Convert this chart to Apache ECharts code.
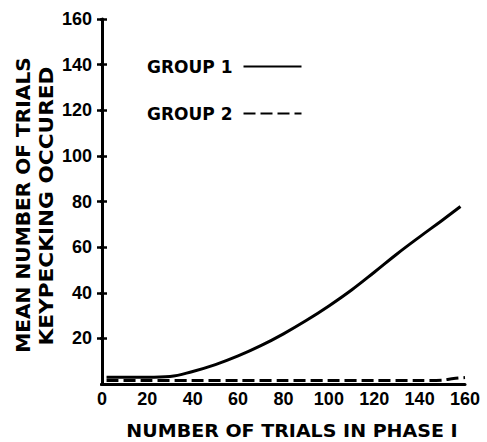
<!DOCTYPE html>
<html>
<head>
<meta charset="utf-8">
<script src="https://cdn.jsdelivr.net/npm/echarts@6/dist/echarts.min.js"></script>
<style>
html,body{margin:0;padding:0;background:#fff;}
#chart{width:487px;height:442px;}
</style>
</head>
<body>
<div id="chart"></div>
<script>
// ---- data ----
var xTicks = [0, 20, 40, 60, 80, 100, 120, 140, 160];
var yTicks = [20, 40, 60, 80, 100, 120, 140, 160];
var seriesNames = ['GROUP 1', 'GROUP 2'];
var group1X = [2, 10, 20, 30, 40, 50, 60, 70, 80, 90, 100, 110, 120, 130, 140, 150, 158];
var group1Y = [3, 3, 3, 3.3, 5.5, 8.5, 12.3, 16.8, 22, 27.8, 34.2, 41.2, 49, 57, 64.5, 71.8, 77.8];
var group2X = [2, 20, 40, 60, 80, 100, 120, 140, 150, 155, 160];
var group2Y = [1.5, 1.5, 1.5, 1.5, 1.5, 1.5, 1.5, 1.5, 1.7, 2.4, 2.8];
var xTitle = 'NUMBER OF TRIALS IN PHASE I';
var yTitle1 = 'MEAN NUMBER OF TRIALS';
var yTitle2 = 'KEYPECKING OCCURED';

function pairs(xs, ys) { return xs.map(function (x, i) { return [x, ys[i]]; }); }

var chart = echarts.init(document.getElementById('chart'), null, {renderer: 'svg'});
var tickFont = {color: '#000', fontFamily: 'Liberation Sans', fontWeight: 'bold', fontSize: 18};
var titleFont = 'DejaVu Sans';

chart.setOption({
  backgroundColor: '#fff',
  animation: false,
  grid: {left: 102, right: 22, top: 19, bottom: 58},
  legend: {
    data: seriesNames,
    orient: 'vertical',
    left: 142, top: 53,
    align: 'right',
    itemWidth: 58, itemHeight: 18, itemGap: 30,
    itemStyle: {opacity: 0},
    textStyle: {color: '#000', fontFamily: titleFont, fontWeight: 'bold', fontSize: 17, padding: [0, 6, 0, 0]}
  },
  xAxis: {
    type: 'value', min: 0, max: 160, interval: 20,
    axisLine: {show: true, onZero: false, lineStyle: {color: '#000', width: 3}},
    axisTick: {show: false},
    splitLine: {show: false},
    axisLabel: Object.assign({margin: 6, formatter: function (v) { return xTicks.indexOf(v) >= 0 ? String(v) : ''; }}, tickFont)
  },
  yAxis: [{
    type: 'value', min: 0, max: 160, interval: 20, offset: 2,
    axisLine: {show: true, lineStyle: {color: '#000', width: 3}},
    axisTick: {show: true, length: 5, lineStyle: {color: '#000', width: 2.5}},
    splitLine: {show: false},
    axisLabel: Object.assign({margin: 8, showMinLabel: false,
      formatter: function (v) { return yTicks.indexOf(v) >= 0 ? String(v) : ''; }}, tickFont)
  }, {
    type: 'value', min: 0, max: 160, interval: 20, position: 'left', offset: 2,
    axisLine: {show: false},
    axisTick: {show: true, inside: true, length: 7, lineStyle: {color: '#000', width: 2.5}},
    axisLabel: {show: false},
    splitLine: {show: false}
  }],
  graphic: [
    {type: 'text', x: 292, y: 431, scaleX: 1.12, style: {text: xTitle, fill: '#000', font: 'bold 17px "DejaVu Sans"', textAlign: 'center', textVerticalAlign: 'middle'}},
    {type: 'text', x: 24, y: 205, rotation: Math.PI / 2, scaleX: 1.06, style: {text: yTitle1, fill: '#000', font: 'bold 19px "DejaVu Sans"', textAlign: 'center', textVerticalAlign: 'middle'}},
    {type: 'text', x: 46, y: 206, rotation: Math.PI / 2, scaleX: 1.14, style: {text: yTitle2, fill: '#000', font: 'bold 19px "DejaVu Sans"', textAlign: 'center', textVerticalAlign: 'middle'}}
  ],
  series: [{
    name: seriesNames[0], type: 'line', yAxisIndex: 0,
    data: pairs(group1X, group1Y), smooth: 0.4, symbol: 'none',
    lineStyle: {color: '#000', width: 3}, itemStyle: {color: '#000'}
  }, {
    name: seriesNames[1], type: 'line', yAxisIndex: 0,
    data: pairs(group2X, group2Y), smooth: 0.3, symbol: 'none',
    lineStyle: {color: '#000', width: 3, type: [12, 5]}, itemStyle: {color: '#000'}
  }]
});
</script>
</body>
</html>
